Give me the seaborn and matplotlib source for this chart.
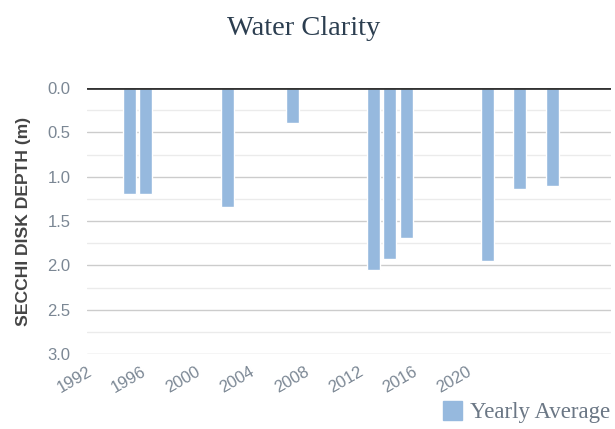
import numpy as np
import pandas as pd
import matplotlib
matplotlib.use("Agg")
import matplotlib.pyplot as plt
import seaborn as sns
from matplotlib.patches import Patch
from matplotlib.ticker import MultipleLocator

# data
years = [1994, 1995, 2000, 2004, 2009, 2010, 2011, 2016, 2018, 2020]
depth = [1.20, 1.20, 1.34, 0.39, 2.05, 1.93, 1.69, 1.95, 1.14, 1.10]
tick_years = [1992, 1996, 2000, 2004, 2008, 2012, 2016, 2020]

df = pd.DataFrame({"year": years, "depth": depth})

bar_color = "#96b9de"
tick_color = "#7b8794"

sns.set_theme(style="white")
plt.rcParams["font.family"] = ["Liberation Sans", "DejaVu Sans"]

fig = plt.figure(figsize=(6.15, 4.29), dpi=100)
ax = fig.add_axes([0.1415, 0.1748, 0.852, 0.620])

sns.barplot(data=df, x="year", y="depth", native_scale=True, width=0.8,
            color=bar_color, saturation=1, ax=ax, zorder=3)

ax.set_ylim(3.0, 0.0)
ax.set_xlim(1991.39, 2023.6)
ax.yaxis.set_major_locator(MultipleLocator(0.5))
ax.yaxis.set_minor_locator(MultipleLocator(0.25))
ax.grid(which="major", axis="y", color="#cccccc", lw=1.0, zorder=0)
ax.grid(which="minor", axis="y", color="#ebebeb", lw=1.0, zorder=0)
ax.grid(axis="x", visible=False)
ax.set_axisbelow(True)
ax.axhline(0, color="#333333", lw=2.0, zorder=4)
for s in ax.spines.values():
    s.set_visible(False)

ax.set_yticks(np.arange(0, 3.01, 0.5))
ax.set_yticklabels([f"{v:.1f}" for v in np.arange(0, 3.01, 0.5)])
ax.tick_params(axis="y", which="both", length=0, pad=12, labelsize=12, labelcolor=tick_color)
ax.set_xticks([])
ax.set_xlabel("")
ax.set_ylabel("SECCHI DISK DEPTH (m)", fontsize=12.6, fontweight="bold", color="#444444", labelpad=12)

# year labels on their own bottom axis
ax2 = ax.twiny()
ax2.set_xlim(1992.65, 2030.65)
ax2.xaxis.set_ticks_position("bottom")
ax2.set_xticks(tick_years)
ax2.set_xticklabels([str(y) for y in tick_years], rotation=30, ha="right",
                    rotation_mode="anchor")
ax2.tick_params(axis="x", length=0, pad=7, labelsize=12, labelcolor=tick_color)
for s in ax2.spines.values():
    s.set_visible(False)

fig.text(0.4935, 1 - 35 / 429, "Water Clarity", ha="center", va="baseline",
         family="Liberation Serif", fontsize=20.5, color="#2c3e50")

fig.legend(handles=[Patch(color=bar_color, label="Yearly Average")],
           loc="lower right", bbox_to_anchor=(1.026, -0.035), frameon=False,
           handlelength=0.85, handleheight=0.85, handletextpad=0.35,
           prop={"family": "Liberation Serif", "size": 16.5}, labelcolor="#6b7785")

fig.savefig("out.png", dpi=100)
